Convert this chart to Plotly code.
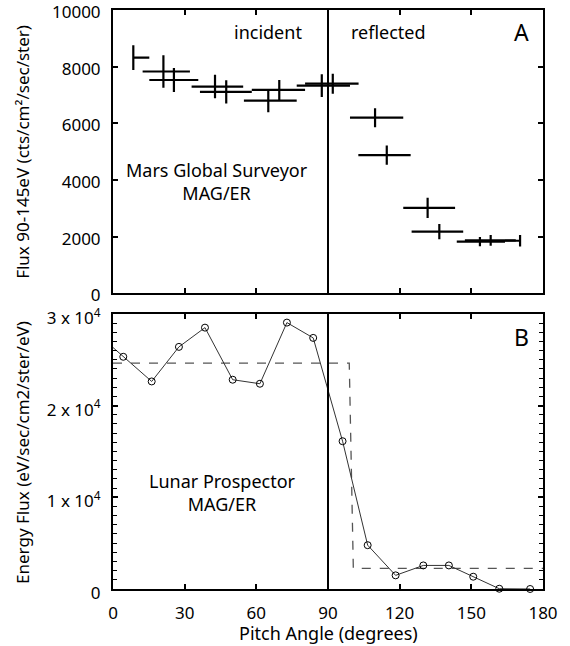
import plotly.graph_objects as go

# ---------------- Data ----------------
# Panel A: Mars Global Surveyor MAG/ER crosses
mgs_angle = [8.5, 21.1, 25.5, 42.7, 47.4, 65.0, 69.6, 87.4, 92.0, 109.7, 114.6, 131.7, 136.6, 153.6, 158.1, 170.4]
mgs_flux = [8320, 7830, 7530, 7300, 7115, 6800, 7180, 7330, 7400, 6200, 4880, 3020, 2180, 1830, 1870, 1860]
mgs_flux_err = [440, 575, 420, 415, 410, 410, 355, 400, 355, 335, 340, 355, 270, 165, 190, 205]
mgs_angle_err_minus = [0, 8.7, 10.3, 9.8, 11.0, 10.2, 11.5, 10.5, 11.6, 10.5, 11.9, 10.2, 11.6, 9.7, 10.8, 6.3]
mgs_angle_err_plus = [6.7, 11.1, 10.2, 11.8, 10.7, 11.9, 10.8, 11.8, 10.8, 11.8, 10.0, 11.5, 10.0, 10.5, 10.5, 0]

# Panel B: Lunar Prospector MAG/ER energy flux
lp_angle = [4.3, 16.2, 27.6, 38.5, 50.1, 61.5, 72.8, 83.8, 96.1, 106.6, 118.3, 129.9, 140.6, 150.8, 161.7, 174.6]
lp_flux = [25330, 22640, 26410, 28510, 22830, 22390, 29060, 27390, 16120, 4780, 1490, 2570, 2570, 1340, 30, 0]
lp_edge_angle = 0
lp_edge_flux = 26340

# Panel B: dashed step model
step_angle = [0, 98.9, 100.6, 180]
step_flux = [24640, 24640, 2250, 2250]

boundary_angle = 90

x_ticks = [0, 30, 60, 90, 120, 150, 180]
a_yticks = [0, 2000, 4000, 6000, 8000, 10000]
a_yticktext = ["0", "2000", "4000", "6000", "8000", "10000"]
b_yticks = [0, 10000, 20000, 30000]
b_yticktext = ["0", "1 x 10<sup>4</sup>", "2 x 10<sup>4</sup>", "3 x 10<sup>4</sup>"]

FONT = "Noto Sans"
FS = 18
TFS = 17

fig = go.Figure()

# Panel A crosses
fig.add_trace(go.Scatter(
    x=mgs_angle, y=mgs_flux, mode="markers",
    marker=dict(size=1, color="rgba(0,0,0,0)"),
    error_x=dict(type="data", symmetric=False, array=mgs_angle_err_plus,
                 arrayminus=mgs_angle_err_minus, width=0, thickness=2.2, color="black"),
    error_y=dict(type="data", array=mgs_flux_err, width=0, thickness=2.2, color="black"),
    xaxis="x", yaxis="y", showlegend=False, hoverinfo="skip"))

# Panel B dashed step
fig.add_trace(go.Scatter(
    x=step_angle, y=step_flux, mode="lines",
    line=dict(color="#555555", width=1.3, dash="dash"),
    xaxis="x2", yaxis="y2", showlegend=False, hoverinfo="skip"))

# Panel B connecting line
fig.add_trace(go.Scatter(
    x=[lp_edge_angle] + lp_angle, y=[lp_edge_flux] + lp_flux, mode="lines",
    line=dict(color="#333333", width=1),
    xaxis="x2", yaxis="y2", showlegend=False, hoverinfo="skip"))

# Panel B circles
fig.add_trace(go.Scatter(
    x=lp_angle, y=lp_flux, mode="markers",
    marker=dict(symbol="circle-open", size=7, color="black", line=dict(width=1, color="black")),
    xaxis="x2", yaxis="y2", showlegend=False, hoverinfo="skip", cliponaxis=False))

tickfont = dict(family=FONT, size=TFS, color="black")

common_x = dict(range=[0, 180], tickvals=x_ticks, ticks="inside", ticklen=5, tickwidth=1.5,
                tickcolor="black", showline=True, linecolor="black", linewidth=2,
                mirror="ticks", showgrid=False, zeroline=False, automargin=False,
                ticklabeloverflow="allow")
common_y = dict(ticks="inside", ticklen=5, tickwidth=1.5, tickcolor="black",
                showline=True, linecolor="black", linewidth=2, mirror="ticks",
                showgrid=False, zeroline=False, tickfont=tickfont, ticklabelstandoff=7,
                automargin=False, ticklabeloverflow="allow")

fig.update_layout(
    width=570, height=646,
    margin=dict(l=113, r=27, t=10, b=57),
    paper_bgcolor="white", plot_bgcolor="white",
    font=dict(family=FONT, size=FS, color="black"),
    xaxis=dict(domain=[0, 1], anchor="y", showticklabels=False, **common_x),
    yaxis=dict(domain=[0.5104, 1], anchor="x", range=[0, 10000], tickvals=a_yticks,
               ticktext=a_yticktext, ticklabelshift=2, **common_y),
    xaxis2=dict(domain=[0, 1], anchor="y2", showticklabels=True, tickfont=tickfont,
                ticklabelstandoff=8, **common_x),
    yaxis2=dict(domain=[0, 0.475], anchor="x2", range=[0, 30000], tickvals=b_yticks,
                ticktext=b_yticktext, ticklabelshift=4,
                minor=dict(dtick=1000, ticks="inside", ticklen=4, tickcolor="black", tickwidth=1),
                **common_y),
)

# vertical boundary lines at 90 degrees
for xr, yr in [("x", "y domain"), ("x2", "y2 domain")]:
    fig.add_shape(type="line", x0=boundary_angle, x1=boundary_angle, y0=0, y1=1,
                  xref=xr, yref=yr, line=dict(color="black", width=2))

ann = []
ann.append(dict(text="incident", x=64.9, y=9230, xref="x", yref="y", showarrow=False,
                font=dict(family=FONT, size=FS)))
ann.append(dict(text="reflected", x=115.5, y=9230, xref="x", yref="y", showarrow=False,
                font=dict(family=FONT, size=FS)))
ann.append(dict(text="A", x=170.8, y=9230, xref="x", yref="y", showarrow=False,
                font=dict(family=FONT, size=23)))
ann.append(dict(text="Mars Global Surveyor<br>MAG/ER", x=43.4, y=3950, xref="x", yref="y",
                showarrow=False, font=dict(family=FONT, size=FS)))
ann.append(dict(text="B", x=170.8, y=27450, xref="x2", yref="y2", showarrow=False,
                font=dict(family=FONT, size=23)))
ann.append(dict(text="Lunar Prospector<br>MAG/ER", x=45.8, y=10500, xref="x2", yref="y2",
                showarrow=False, font=dict(family=FONT, size=FS)))
ann.append(dict(text="Pitch Angle (degrees)", x=0.5, y=-0.0984, xref="paper", yref="paper",
                showarrow=False, xanchor="center", yanchor="bottom", borderpad=0,
                font=dict(family=FONT, size=FS)))
ann.append(dict(text="Flux 90-145eV (cts/cm²/sec/ster)", x=-0.2093, y=0.755, xref="paper",
                yref="paper", textangle=-90, showarrow=False, xanchor="center", yanchor="middle",
                font=dict(family=FONT, size=17)))
ann.append(dict(text="Energy Flux (eV/sec/cm2/ster/eV)", x=-0.2093, y=0.235, xref="paper",
                yref="paper", textangle=-90, showarrow=False, xanchor="center", yanchor="middle",
                font=dict(family=FONT, size=17)))
fig.update_layout(annotations=ann)

fig.write_html("out.html")
